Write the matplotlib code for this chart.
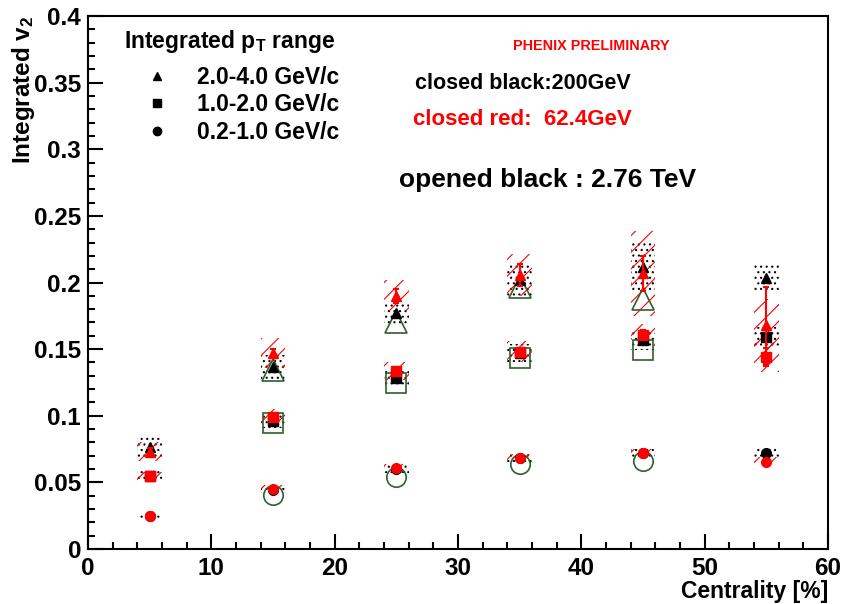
"""Integrated v2 vs centrality for three collision energies."""
import matplotlib

matplotlib.use("Agg")
import matplotlib.pyplot as plt
from matplotlib.lines import Line2D

plt.rcParams["font.family"] = ["Liberation Sans", "DejaVu Sans"]
plt.rcParams["font.weight"] = "bold"
plt.rcParams["mathtext.fontset"] = "custom"
plt.rcParams["mathtext.rm"] = "Liberation Sans:bold"
plt.rcParams["mathtext.it"] = "Liberation Sans:bold"
plt.rcParams["mathtext.bf"] = "Liberation Sans:bold"
plt.rcParams["mathtext.default"] = "rm"
plt.rcParams["hatch.linewidth"] = 0.8

# centrality bin centres [%]
cent = [5, 15, 25, 35, 45, 55]
cent_lhc = [15, 25, 35, 45]

# 200 GeV (closed black)
v2_200_tri = [0.0765, 0.1366, 0.177, 0.202, 0.212, 0.2034]
sys_200_tri = [0.008, 0.009, 0.0095, 0.013, 0.018, 0.0095]
v2_200_sq = [0.0548, 0.096, 0.128, 0.147, 0.157, 0.159]
sys_200_sq = [0.004, 0.005, 0.006, 0.007, 0.008, 0.0075]
v2_200_circ = [0.025, 0.044, 0.060, 0.068, 0.072, 0.072]
sys_200_circ = [0.002, 0.002, 0.003, 0.003, 0.003, 0.004]

# 62.4 GeV (closed red)
v2_62_tri = [0.073, 0.147, 0.190, 0.2056, 0.207, 0.168]
stat_62_tri = [0.003, 0.003, 0.005, 0.008, 0.013, 0.029]
sys_62_tri = [0.007, 0.011, 0.0116, 0.016, 0.032, 0.02]
v2_62_sq = [0.0548, 0.099, 0.1336, 0.148, 0.1606, 0.144]
stat_62_sq = [0.002, 0.002, 0.003, 0.003, 0.004, 0.007]
sys_62_sq = [0.003, 0.006, 0.007, 0.008, 0.008, 0.011]
v2_62_circ = [0.0248, 0.045, 0.0608, 0.068, 0.072, 0.065]
stat_62_circ = [0.001, 0.001, 0.001, 0.001, 0.001, 0.002]
sys_62_circ = [0.0015, 0.003, 0.003, 0.003, 0.003, 0.004]

# 2.76 TeV (open)
v2_lhc_tri = [0.134, 0.170, 0.197, 0.1876]
v2_lhc_sq = [0.0945, 0.1246, 0.143, 0.149]
v2_lhc_circ = [0.0405, 0.054, 0.0638, 0.066]

legend_labels = ["2.0-4.0 GeV/c", "1.0-2.0 GeV/c", "0.2-1.0 GeV/c"]

RED = "#ff0000"
OPEN = "#2f5f2f"
BOX_W = 2.0


def sys_boxes(ax, x, y, sys, color, hatch):
    """Systematic error boxes drawn as hatched bars."""
    bottoms = [v - s for v, s in zip(y, sys)]
    heights = [2 * s for s in sys]
    ax.bar(x, heights, width=BOX_W, bottom=bottoms, facecolor="none",
           edgecolor=color, linewidth=0, hatch=hatch, zorder=1)


fig = plt.figure(figsize=(8.44, 6.04), dpi=100)
ax = fig.add_axes([0.1043, 0.091, 0.8767, 0.8825])

# systematic boxes
for y, s in [(v2_200_tri, sys_200_tri), (v2_200_sq, sys_200_sq), (v2_200_circ, sys_200_circ)]:
    sys_boxes(ax, cent, y, s, "black", "...")
for y, s in [(v2_62_tri, sys_62_tri), (v2_62_sq, sys_62_sq), (v2_62_circ, sys_62_circ)]:
    sys_boxes(ax, cent, y, s, RED, "//")

# 2.76 TeV open markers
for y, m, ms in [(v2_lhc_tri, "^", 16), (v2_lhc_sq, "s", 14), (v2_lhc_circ, "o", 14)]:
    ax.plot(cent_lhc, y, ls="none", marker=m, ms=ms, mfc="none", mec=OPEN,
            mew=1.2, zorder=3)

# 200 GeV closed black
for y, m, ms in [(v2_200_tri, "^", 7), (v2_200_sq, "s", 7), (v2_200_circ, "o", 7)]:
    ax.plot(cent, y, ls="none", marker=m, ms=ms, color="black", zorder=4)

# 62.4 GeV closed red
for y, e, m, ms in [(v2_62_tri, stat_62_tri, "^", 7), (v2_62_sq, stat_62_sq, "s", 7),
                    (v2_62_circ, stat_62_circ, "o", 7)]:
    ax.errorbar(cent, y, yerr=e, ls="none", marker=m, ms=ms, color=RED,
                elinewidth=1.5, capsize=2, capthick=1.5, zorder=5)

ax.set_xlim(0, 60)
ax.set_ylim(0, 0.4)
ax.set_xticks(range(0, 61, 10))
ax.set_xticks(range(0, 61, 2), minor=True)
ax.set_yticks([0, 0.05, 0.1, 0.15, 0.2, 0.25, 0.3, 0.35, 0.4])
ax.set_yticklabels(["0", "0.05", "0.1", "0.15", "0.2", "0.25", "0.3", "0.35", "0.4"])
ax.set_yticks([i * 0.01 for i in range(41)], minor=True)
ax.tick_params(which="both", direction="in", top=False, right=False,
               labelsize=17.5, width=1.5)
ax.tick_params(which="major", length=11)
ax.tick_params(which="minor", length=5)
ax.tick_params(axis="x", pad=6)
ax.tick_params(axis="y", pad=5)
for sp in ax.spines.values():
    sp.set_linewidth(1.5)

ax.set_xlabel("Centrality [%]", fontsize=16.5, fontweight="bold", loc="right")
ax.xaxis.set_label_coords(1.0, -0.058)
ax.set_ylabel(r"Integrated v$_{2}$", fontsize=17.5, fontweight="bold", loc="top")
ax.yaxis.set_label_coords(-0.069, 1.0)

handles = [Line2D([], [], ls="none", marker=m, color="black", ms=6)
           for m in ["^", "s", "o"]]
leg = ax.legend(handles, legend_labels, title=r"Integrated p$_{T}$ range",
                loc="upper left", bbox_to_anchor=(0.028, 1.006), frameon=False,
                fontsize=16.5, title_fontsize=16.5, alignment="left",
                handletextpad=0.3, labelspacing=0.2, borderaxespad=0.25,
                handlelength=2.9)
leg._legend_box.sep = 8

ax.text(0.68, 0.944, "PHENIX PRELIMINARY", transform=ax.transAxes, color=RED,
        fontsize=10.4, fontweight="bold", ha="center", va="center")
ax.text(0.442, 0.874, "closed black:200GeV", transform=ax.transAxes, color="black",
        fontsize=15.5, fontweight="bold", ha="left", va="center")
ax.text(0.439, 0.805, "closed red:  62.4GeV", transform=ax.transAxes, color=RED,
        fontsize=16, fontweight="bold", ha="left", va="center")
ax.text(0.42, 0.693, "opened black : 2.76 TeV", transform=ax.transAxes, color="black",
        fontsize=19, fontweight="bold", ha="left", va="center")

fig.savefig("out.png", dpi=100)
